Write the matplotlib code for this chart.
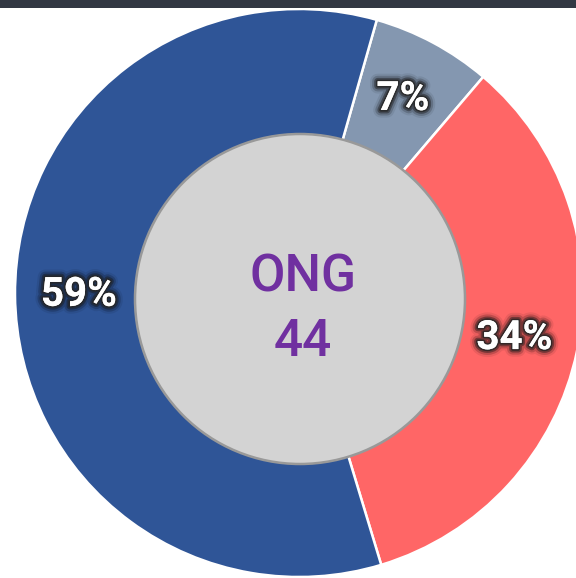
import matplotlib.pyplot as plt
import matplotlib.patheffects as pe
from matplotlib.patches import Circle, Rectangle

# segment data (clockwise from the small slice)
segments = ["B", "C", "A"]
counts = [3, 15, 26]
colors = ["#8497B0", "#FF6666", "#2F5597"]
center_title = "ONG"
center_value = str(sum(counts))

W, H = 576, 578
fig = plt.figure(figsize=(W / 100, H / 100), dpi=100)
ax = fig.add_axes([0, 0, 1, 1])
ax.set_axis_off()

# glow behind the white percentage labels
glow = [
    pe.withStroke(linewidth=11, foreground=(0, 0, 0, 0.08)),
    pe.withStroke(linewidth=8, foreground=(0, 0, 0, 0.18)),
    pe.withStroke(linewidth=5, foreground=(0.1, 0.1, 0.1, 0.45)),
    pe.withStroke(linewidth=2.5, foreground=(0.15, 0.15, 0.15, 0.8)),
    pe.Normal(),
]

wedges, texts, autotexts = ax.pie(
    counts,
    colors=colors,
    startangle=74.1,
    counterclock=False,
    center=(299, H - 293),
    radius=284,
    autopct="%.0f%%",
    pctdistance=0.775,
    wedgeprops=dict(edgecolor="white", linewidth=1.8),
    textprops=dict(color="white", fontsize=29, fontweight="bold",
                   family="Roboto"),
)
for t in autotexts:
    t.set_path_effects(glow)
    t.set_zorder(5)

# gray disc in the middle
ax.add_patch(Circle((300, H - 299), 165, facecolor="#D3D3D3",
                    edgecolor="#999999", linewidth=1.8, zorder=4))
ax.text(303, H - 278, center_title, ha="center", va="center", fontsize=37,
        color="#7030A0", family="Roboto", fontweight="medium", zorder=6)
ax.text(303, H - 342, center_value, ha="center", va="center", fontsize=37,
        color="#7030A0", family="Roboto", fontweight="medium", zorder=6)

ax.set_xlim(0, W)
ax.set_ylim(0, H)
ax.set_aspect("auto")

# dark strip along the top
fig.add_artist(Rectangle((0, 1 - 8 / H), 1, 8 / H, transform=fig.transFigure,
                         facecolor="#323843", edgecolor="none", zorder=10))

fig.savefig("out.png", dpi=100)
